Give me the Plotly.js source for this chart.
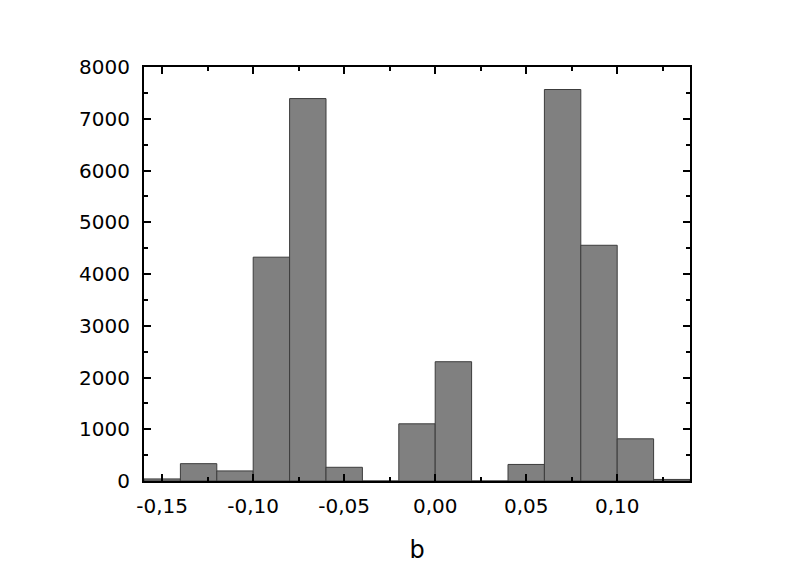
<!DOCTYPE html>
<html>
<head>
<meta charset="utf-8">
<script src="https://cdn.plot.ly/plotly-3.0.1.min.js"></script>
<style>html,body{margin:0;padding:0;background:#fff;}#chart{width:801px;height:576px;}</style>
</head>
<body>
<div id="chart"></div>
<script>
// Bin centres (bin width 0.02) and counts
const binCenters = [-0.15, -0.13, -0.11, -0.09, -0.07, -0.05, -0.03, -0.01, 0.01, 0.03, 0.05, 0.07, 0.09, 0.11, 0.13];
const counts     = [40, 335, 195, 4325, 7390, 265, 0, 1105, 2305, 0, 320, 7565, 4555, 815, 30];
const binWidth = 0.02;
const xTickVals  = [-0.15, -0.10, -0.05, 0.00, 0.05, 0.10];
const xTickText  = ["-0,15", "-0,10", "-0,05", "0,00", "0,05", "0,10"];
const yTickVals  = [0, 1000, 2000, 3000, 4000, 5000, 6000, 7000, 8000];

const font = {family: "DejaVu Sans, Arial, sans-serif", size: 20, color: "#000"};

const trace = {
  type: "bar",
  x: binCenters,
  y: counts,
  width: binCenters.map(() => binWidth),
  marker: {color: "#808080", line: {color: "#3c3c3c", width: 1}},
  hoverinfo: "x+y"
};

const layout = {
  width: 801, height: 576,
  margin: {l: 144, r: 111, t: 67, b: 95},
  paper_bgcolor: "#fff", plot_bgcolor: "#fff",
  showlegend: false,
  font: font,
  bargap: 0,
  xaxis: {
    range: [-0.16, 0.14],
    tickvals: xTickVals, ticktext: xTickText,
    ticks: "inside", ticklen: 7, tickwidth: 2, tickcolor: "#000",
    minor: {dtick: 0.025, tick0: -0.175, ticks: "inside", ticklen: 4, tickwidth: 2, tickcolor: "#000", showgrid: false},
    showline: true, linecolor: "#000", linewidth: 2, mirror: "allticks",
    showgrid: false, zeroline: false,
    tickfont: font,
    ticklabelstandoff: 6,
    title: {text: "b", font: {family: "DejaVu Sans, Arial, sans-serif", size: 24, color: "#000"}, standoff: 24}
  },
  yaxis: {
    range: [0, 8000],
    tickvals: yTickVals, tickformat: "d",
    ticks: "inside", ticklen: 7, tickwidth: 2, tickcolor: "#000",
    minor: {dtick: 500, ticks: "inside", ticklen: 4, tickwidth: 2, tickcolor: "#000", showgrid: false},
    showline: true, linecolor: "#000", linewidth: 2, mirror: "allticks",
    showgrid: false, zeroline: false,
    tickfont: font,
    ticklabelstandoff: 8
  }
};

Plotly.newPlot("chart", [trace], layout, {displayModeBar: false, staticPlot: true});
</script>
</body>
</html>
